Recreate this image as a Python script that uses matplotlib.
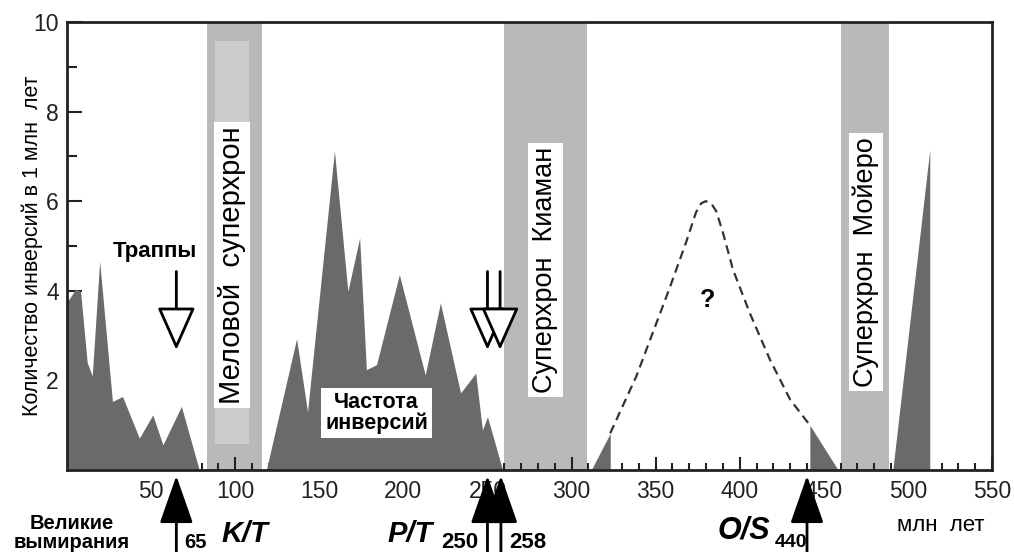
import matplotlib
matplotlib.use("Agg")
import matplotlib.pyplot as plt
from matplotlib.patches import Rectangle

plt.rcParams['font.family'] = ['Liberation Sans', 'DejaVu Sans']

# reversal frequency (age, Ma ; reversals per 1 Myr), separate filled pieces
seg1_age = [0, 1, 5, 8, 12, 15, 19.4, 27, 33, 43, 51, 57, 68, 78.6]
seg1_freq = [3.9, 3.8, 4.03, 4.0, 2.4, 2.1, 4.66, 1.53, 1.64, 0.71, 1.23, 0.56, 1.42, 0]
seg2_age = [118.5, 136.5, 143, 159, 167, 174, 178, 184, 197.6, 213, 222, 234, 243, 247, 250, 259]
seg2_freq = [0, 2.93, 1.30, 7.12, 3.99, 5.18, 2.24, 2.35, 4.36, 2.12, 3.73, 1.72, 2.16, 0.89, 1.19, 0]
seg3_age = [311.7, 323, 323]
seg3_freq = [0, 0.82, 0]
seg4_age = [441.7, 441.7, 458.5]
seg4_freq = [0, 1.0, 0]
seg5_age = [491, 513, 513]
seg5_freq = [0, 7.15, 0]

# hypothetical (dashed) part
dash_age = [323, 338.5, 358, 368, 374, 377, 379.8, 383, 386, 390, 396, 406, 418, 430, 441.7]
dash_freq = [0.82, 2.09, 4.03, 5.07, 5.75, 5.95, 6.0, 5.95, 5.78, 5.3, 4.47, 3.5, 2.46, 1.57, 1.0]

# superchrons (start, end Ma) and their names
superchrons = [(83, 116), (260, 309), (460, 489)]
superchron_names = ['Меловой  суперхрон', 'Суперхрон  Киаман', 'Суперхрон  Мойеро']

# trap eruptions (open arrows) and great extinctions (filled arrows)
trap_ages = [65, 250, 257.5]
extinction_ages = [65, 250, 258, 440]

dark = '#6a6a6a'
band = '#b9b9b9'

fig = plt.figure(figsize=(10.14, 5.52), dpi=100)
ax = fig.add_axes([0.0661, 0.1486, 0.9122, 0.8116])

for a, b in superchrons:
    ax.axvspan(a, b, color=band, lw=0, zorder=1)
ax.add_patch(Rectangle((88, 0.58), 20, 9.0, color='#cdcdcd', lw=0, zorder=1))

for xs, ys in [(seg1_age, seg1_freq), (seg2_age, seg2_freq), (seg3_age, seg3_freq),
               (seg4_age, seg4_freq), (seg5_age, seg5_freq)]:
    ax.fill_between(xs, ys, 0, color=dark, lw=0, zorder=2)

ax.plot(dash_age, dash_freq, color='#333333', lw=1.6, ls=(0, (4, 2.5)), zorder=3)

# band labels
label_pos = [(98, 4.58, 21), (284.5, 4.47, 19.5), (475, 4.65, 19.5)]
for name, (x, y, fs) in zip(superchron_names, label_pos):
    ax.text(x, y, name, rotation=90, ha='center', va='center', fontsize=fs,
            bbox=dict(fc='white', ec='none', pad=3), zorder=4)

ax.text(184, 1.27, 'Частота\nинверсий', ha='center', va='center', fontsize=15.5,
        fontweight='bold', linespacing=1.0,
        bbox=dict(fc='white', ec='none', pad=3), zorder=4)
ax.text(52.4, 4.88, 'Траппы', ha='center', va='center', fontsize=16, fontweight='bold')
ax.text(381, 3.8, '?', ha='center', va='center', fontsize=18, fontweight='bold')

# open arrows for traps
for x in trap_ages:
    ax.annotate('', xy=(x, 2.68), xytext=(x, 4.43),
                arrowprops=dict(arrowstyle='-|>,head_length=2.7,head_width=1.2',
                                mutation_scale=10, fc='white', ec='black', lw=2,
                                shrinkA=0, shrinkB=0), zorder=5)

# filled arrows for extinctions (below the axis)
for x in extinction_ages:
    ax.annotate('', xy=(x, -0.13), xytext=(x, -2.2),
                arrowprops=dict(arrowstyle='-|>,head_length=3.0,head_width=1.05',
                                mutation_scale=10, fc='black', ec='black', lw=2,
                                shrinkA=0, shrinkB=0),
                annotation_clip=False)

ax.text(3, -0.99, 'Великие\nвымирания', ha='center', va='top', fontsize=14.5,
        fontweight='bold', linespacing=0.95)
ax.text(69.6, -1.74, '65', ha='left', va='baseline', fontsize=14.5, fontweight='bold')
ax.text(91.7, -1.6, 'K/T', ha='left', va='baseline', fontsize=21, fontweight='bold', style='italic')
ax.text(190.5, -1.6, 'P/T', ha='left', va='baseline', fontsize=21, fontweight='bold', style='italic')
ax.text(222.6, -1.74, '250', ha='left', va='baseline', fontsize=16, fontweight='bold')
ax.text(263, -1.74, '258', ha='left', va='baseline', fontsize=16, fontweight='bold')
ax.text(387, -1.52, 'O/S', ha='left', va='baseline', fontsize=22, fontweight='bold', style='italic')
ax.text(421, -1.72, '440', ha='left', va='baseline', fontsize=14, fontweight='bold')
ax.text(519.6, -1.36, 'млн  лет', ha='center', va='baseline', fontsize=16)

ax.set_xlim(0, 550)
ax.set_ylim(0, 10)
ax.set_xticks(range(50, 551, 50))
ax.set_xticks(range(10, 550, 10), minor=True)
ax.set_yticks([2, 4, 6, 8, 10])
ax.set_yticks([1, 3, 5, 7, 9], minor=True)

ax.tick_params(axis='both', which='both', direction='in', width=1.5, colors='#222222',
               labelsize=16.5)
ax.tick_params(axis='x', which='major', length=9.5, pad=7)
ax.tick_params(axis='x', which='minor', length=5)
ax.tick_params(axis='y', which='major', length=10.5, pad=6)
ax.tick_params(axis='y', which='minor', length=7.5)

for s in ax.spines.values():
    s.set_linewidth(2)
    s.set_color('#222222')

ax.set_ylabel('Количество инверсий в 1 млн  лет', fontsize=15.5, va='center')
ax.yaxis.set_label_coords(-0.038, 0.5)

fig.savefig('out.png', dpi=100)
